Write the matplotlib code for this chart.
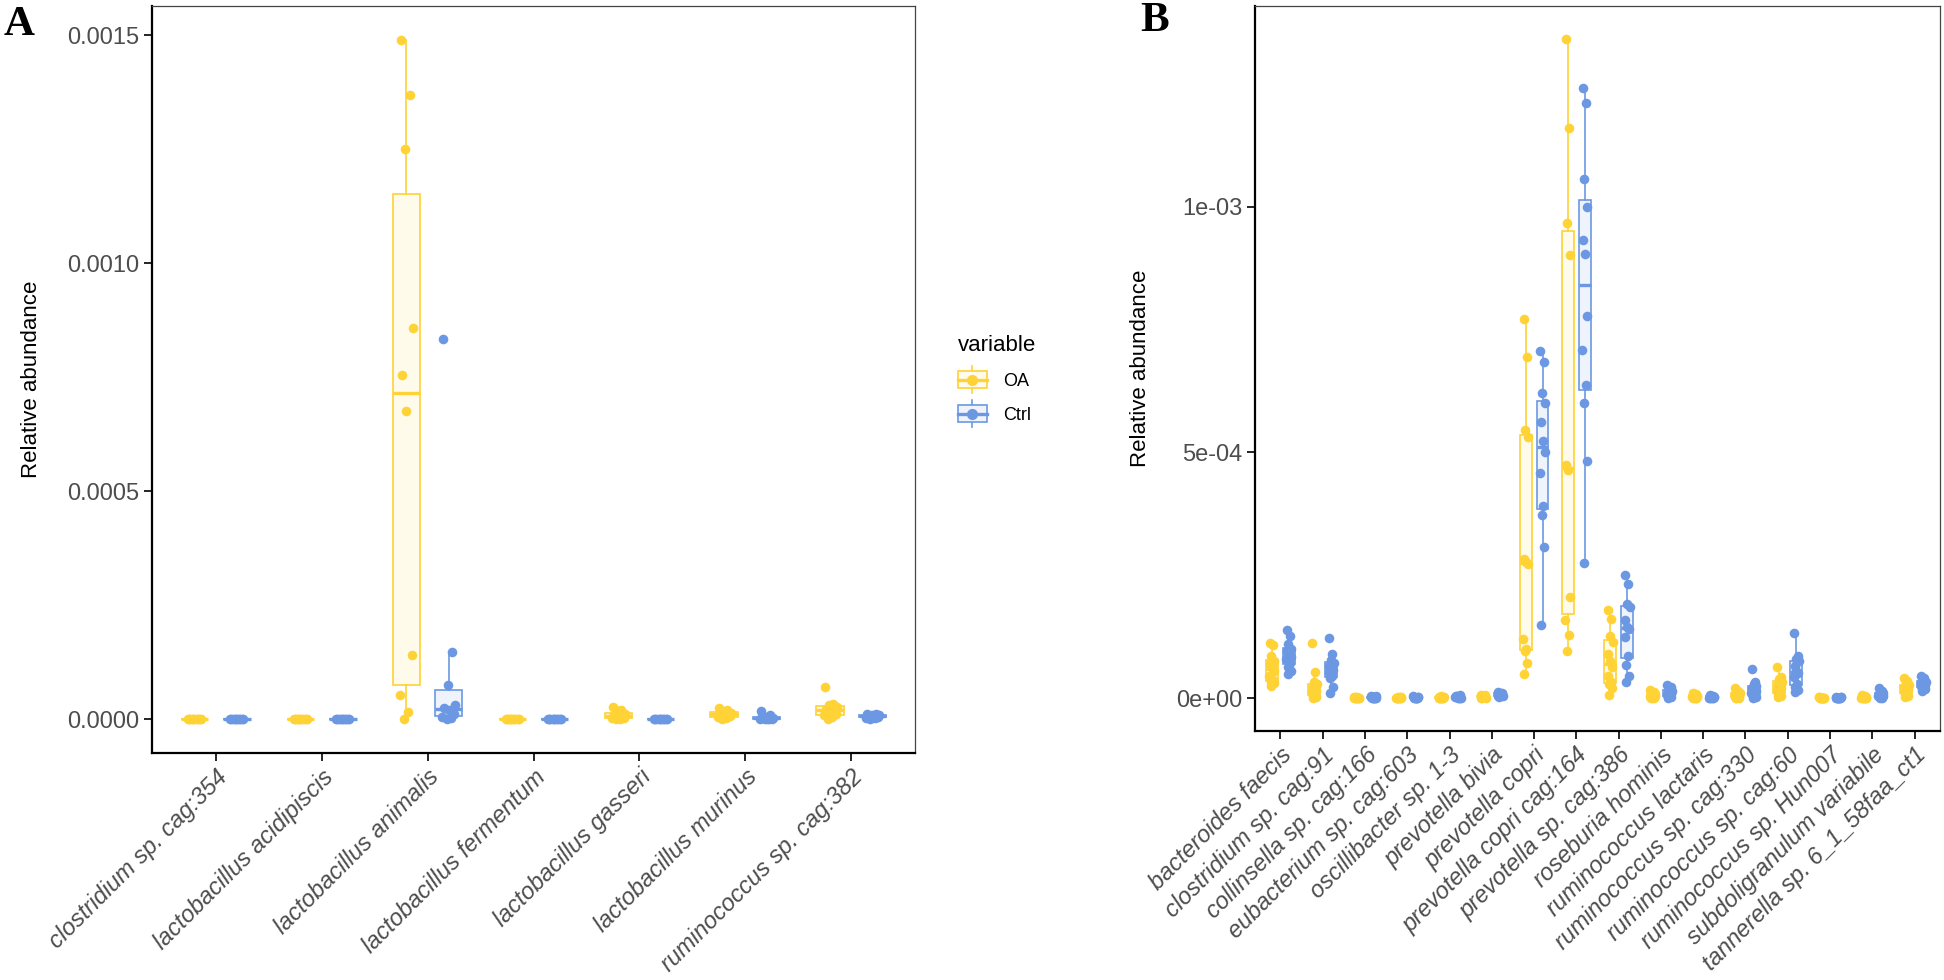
import numpy as np
import matplotlib
matplotlib.use('Agg')
import matplotlib.pyplot as plt
from matplotlib.legend_handler import HandlerBase
from matplotlib.patches import Rectangle
from matplotlib.lines import Line2D

plt.rcParams['font.family'] = ['Liberation Sans', 'DejaVu Sans']

OA_COL = '#FFD235'
CTRL_COL = '#6C98E3'
OA_FILL = '#FFFBEA'
CTRL_FILL = '#EEF3FC'
groups = ['OA', 'Ctrl']

# ---- panel A: relative abundance, values in units of 1e-5 ----
species_a = ['clostridium sp. cag:354', 'lactobacillus acidipiscis', 'lactobacillus animalis',
             'lactobacillus fermentum', 'lactobacillus gasseri', 'lactobacillus murinus',
             'ruminococcus sp. cag:382']
oa_a = [
    [0.02, 0.0, 0.05, 0.01, 0.0, 0.03, 0.0, 0.02, 0.01, 0.0],
    [0.0, 0.02, 0.01, 0.0, 0.03, 0.0, 0.01, 0.02, 0.0, 0.01],
    [149.0, 137.0, 125.0, 85.7, 75.5, 67.6, 14.0, 5.3, 1.6, 0.0],
    [0.01, 0.0, 0.02, 0.0, 0.03, 0.01, 0.0, 0.02, 0.0, 0.01],
    [2.7, 2.0, 1.5, 1.2, 0.8, 0.5, 0.3, 0.2, 0.1, 0.0],
    [2.4, 1.9, 1.6, 1.3, 1.1, 0.9, 0.6, 0.4, 0.2, 0.1],
    [7.0, 3.4, 3.0, 2.6, 2.2, 1.8, 1.2, 0.9, 0.5, 0.0],
]
ctrl_a = [
    [0.01, 0.03, 0.0, 0.02, 0.0, 0.04, 0.01, 0.0, 0.02, 0.0],
    [0.02, 0.0, 0.01, 0.04, 0.0, 0.01, 0.03, 0.0, 0.02, 0.01],
    [83.4, 14.8, 7.5, 3.0, 2.5, 2.0, 1.0, 0.5, 0.3, 0.0],
    [0.02, 0.01, 0.0, 0.03, 0.0, 0.02, 0.0, 0.01, 0.03, 0.0],
    [0.05, 0.0, 0.02, 0.1, 0.0, 0.03, 0.0, 0.06, 0.01, 0.0],
    [1.8, 0.9, 0.5, 0.3, 0.2, 0.1, 0.05, 0.0, 0.0, 0.0],
    [1.2, 1.0, 0.9, 0.8, 0.7, 0.6, 0.5, 0.3, 0.2, 0.1],
]
scale_a = 1e-5
yticks_a = [0.0, 0.0005, 0.0010, 0.0015]

# ---- panel B: relative abundance, values in units of 1e-4 ----
species_b = ['bacteroides faecis', 'clostridium sp. cag:91', 'collinsella sp. cag:166',
             'eubacterium sp. cag:603', 'oscillibacter sp. 1-3', 'prevotella bivia',
             'prevotella copri', 'prevotella copri cag:164', 'prevotella sp. cag:386',
             'roseburia hominis', 'ruminococcus lactaris', 'ruminococcus sp. cag:330',
             'ruminococcus sp. cag:60', 'ruminococcus sp. Hun007', 'subdoligranulum variabile',
             'tannerella sp. 6_1_58faa_ct1']
oa_b = [
    [1.13, 1.08, 0.85, 0.76, 0.70, 0.63, 0.55, 0.45, 0.36, 0.33, 0.30, 0.25],
    [1.12, 0.53, 0.33, 0.28, 0.22, 0.18, 0.14, 0.10, 0.07, 0.05, 0.02, 0.0],
    [0.02, 0.0, 0.01, 0.0, 0.03, 0.0, 0.01, 0.0, 0.02, 0.0, 0.01, 0.0],
    [0.01, 0.0, 0.02, 0.0, 0.0, 0.01, 0.03, 0.0, 0.01, 0.0, 0.02, 0.0],
    [0.03, 0.01, 0.0, 0.02, 0.0, 0.04, 0.01, 0.0, 0.02, 0.0, 0.01, 0.0],
    [0.06, 0.03, 0.04, 0.0, 0.05, 0.02, 0.07, 0.01, 0.03, 0.0, 0.04, 0.02],
    [7.71, 6.93, 5.45, 5.31, 2.82, 2.76, 2.72, 1.21, 1.00, 0.95, 0.72, 0.49],
    [13.41, 11.60, 9.66, 9.02, 4.75, 4.63, 2.05, 1.59, 1.28, 0.96],
    [1.79, 1.60, 1.27, 1.15, 0.90, 0.75, 0.64, 0.45, 0.32, 0.28, 0.20, 0.06],
    [0.16, 0.12, 0.10, 0.08, 0.07, 0.05, 0.04, 0.03, 0.02, 0.01, 0.0, 0.0],
    [0.10, 0.08, 0.06, 0.05, 0.04, 0.03, 0.02, 0.02, 0.01, 0.0, 0.0, 0.0],
    [0.20, 0.15, 0.12, 0.10, 0.08, 0.06, 0.05, 0.03, 0.02, 0.01, 0.0, 0.0],
    [0.64, 0.43, 0.38, 0.33, 0.28, 0.24, 0.20, 0.16, 0.12, 0.08, 0.05, 0.02],
    [0.02, 0.0, 0.01, 0.0, 0.0, 0.01, 0.0, 0.02, 0.0, 0.01, 0.0, 0.0],
    [0.06, 0.04, 0.03, 0.02, 0.02, 0.01, 0.01, 0.0, 0.0, 0.01, 0.0, 0.0],
    [0.40, 0.35, 0.30, 0.26, 0.22, 0.20, 0.17, 0.14, 0.11, 0.08, 0.05, 0.03],
]
ctrl_b = [
    [1.39, 1.27, 1.10, 1.00, 0.95, 0.88, 0.83, 0.80, 0.72, 0.63, 0.55, 0.48],
    [1.23, 0.89, 0.78, 0.72, 0.66, 0.62, 0.58, 0.52, 0.45, 0.40, 0.22, 0.10],
    [0.03, 0.01, 0.0, 0.04, 0.02, 0.0, 0.01, 0.05, 0.0, 0.02, 0.01, 0.0],
    [0.02, 0.01, 0.0, 0.03, 0.01, 0.0, 0.02, 0.04, 0.0, 0.01, 0.0, 0.02],
    [0.05, 0.02, 0.03, 0.0, 0.04, 0.01, 0.06, 0.02, 0.0, 0.03, 0.01, 0.02],
    [0.12, 0.08, 0.10, 0.05, 0.09, 0.06, 0.11, 0.04, 0.07, 0.03, 0.08, 0.05],
    [7.07, 6.84, 6.21, 6.00, 5.62, 5.22, 5.00, 4.57, 3.90, 3.72, 3.08, 1.48],
    [12.41, 12.10, 10.56, 10.00, 9.32, 9.04, 7.78, 7.09, 6.36, 6.00, 4.82, 2.74],
    [2.50, 2.32, 1.92, 1.85, 1.59, 1.45, 1.40, 1.25, 0.85, 0.67, 0.45, 0.33],
    [0.26, 0.22, 0.18, 0.15, 0.12, 0.10, 0.08, 0.06, 0.05, 0.03, 0.02, 0.01],
    [0.06, 0.05, 0.04, 0.03, 0.03, 0.02, 0.02, 0.01, 0.01, 0.0, 0.0, 0.0],
    [0.60, 0.32, 0.28, 0.24, 0.20, 0.17, 0.14, 0.11, 0.08, 0.05, 0.02, 0.0],
    [1.33, 0.85, 0.80, 0.75, 0.65, 0.55, 0.50, 0.42, 0.28, 0.22, 0.16, 0.12],
    [0.03, 0.01, 0.0, 0.02, 0.01, 0.0, 0.02, 0.0, 0.01, 0.0, 0.01, 0.0],
    [0.20, 0.15, 0.12, 0.10, 0.08, 0.06, 0.05, 0.04, 0.03, 0.02, 0.01, 0.0],
    [0.45, 0.40, 0.36, 0.33, 0.30, 0.28, 0.26, 0.24, 0.22, 0.20, 0.18, 0.15],
]
scale_b = 1e-4
yticks_b = [0.0, 0.0005, 0.0010]

# fixed horizontal jitter pattern (x units)
JIT = np.array([-0.05, 0.03, -0.01, 0.06, -0.04, 0.0, 0.05, -0.06, 0.02, -0.02, 0.04, -0.03])


def draw_panel(ax, names, oa, ctrl, scale, width):
    x = np.arange(len(names))
    allvals = []
    for vals, off, col, fill in [(oa, -0.2, OA_COL, OA_FILL), (ctrl, 0.2, CTRL_COL, CTRL_FILL)]:
        data = [np.array(v) * scale for v in vals]
        allvals += data
        ax.boxplot(data, positions=x + off, widths=width, patch_artist=True,
                   showfliers=False, showcaps=False, manage_ticks=False,
                   boxprops=dict(facecolor=fill, edgecolor=col, linewidth=1.2),
                   whiskerprops=dict(color=col, linewidth=1.2),
                   medianprops=dict(color=col, linewidth=2.4))
        for i, v in enumerate(data):
            ax.scatter(x[i] + off + np.resize(JIT, len(v)), v, s=48, color=col,
                       linewidths=0, zorder=3)
    ymax = max(v.max() for v in allvals)
    ax.set_ylim(-0.05 * ymax, 1.05 * ymax)
    ax.set_xlim(-0.6, len(names) - 0.4)
    ax.set_xticks(x)
    ax.set_xticklabels(names, rotation=45, ha='right', va='top', rotation_mode='anchor',
                       style='italic')
    for s in ['left', 'bottom']:
        ax.spines[s].set_linewidth(1.6)
        ax.spines[s].set_color('black')
    for s in ['top', 'right']:
        ax.spines[s].set_linewidth(0.9)
        ax.spines[s].set_color('#444444')
    ax.tick_params(length=6, width=1.2, color='black', labelsize=17,
                   labelcolor='#4D4D4D', pad=3)
    ax.set_ylabel('Relative abundance', fontsize=16, color='black')


fig = plt.figure(figsize=(19.44, 9.8), dpi=100)
W, H = 1944, 980
ax_a = fig.add_axes([152 / W, 1 - 753 / H, (915 - 152) / W, (753 - 6) / H])
ax_b = fig.add_axes([1255 / W, 1 - 731 / H, (1940 - 1255) / W, (731 - 6) / H])

draw_panel(ax_a, species_a, oa_a, ctrl_a, scale_a, 0.26)
ax_a.set_yticks(yticks_a)
ax_a.set_yticklabels([f'{v:.4f}' for v in yticks_a])
ax_a.yaxis.set_label_coords((42 - 152) / (915 - 152), 0.5)

draw_panel(ax_b, species_b, oa_b, ctrl_b, scale_b, 0.28)
ax_b.set_yticks(yticks_b)
ax_b.set_yticklabels([f'{v:.0e}' for v in yticks_b])
ax_b.yaxis.set_label_coords((1151 - 1255) / (1940 - 1255), 0.5)


class BoxKey(HandlerBase):
    def create_artists(self, legend, orig, xd, yd, w, h, fontsize, trans):
        col = orig.get_color()
        fill = orig.get_markerfacecolor()
        x0, y0 = -xd, -yd
        whisk = Line2D([x0 + w / 2] * 2, [y0 - h * 0.3, y0 + h * 1.3], color=col, lw=1.2,
                       transform=trans)
        box = Rectangle((x0, y0), w, h, facecolor=fill, edgecolor=col, lw=1.2, transform=trans)
        med = Line2D([x0, x0 + w], [y0 + h / 2] * 2, color=col, lw=2.4, transform=trans)
        dot = Line2D([x0 + w / 2], [y0 + h / 2], marker='o', ms=7, color=col, lw=0,
                     transform=trans)
        return [whisk, box, med, dot]


handles = [Line2D([], [], color=OA_COL, markerfacecolor=OA_FILL),
           Line2D([], [], color=CTRL_COL, markerfacecolor=CTRL_FILL)]
leg = fig.legend(handles, groups, title='variable', loc='upper left',
                 bbox_to_anchor=(949 / W, 1 - 326 / H), frameon=False, fontsize=13,
                 title_fontsize=16, handler_map={Line2D: BoxKey()}, handlelength=1.6,
                 handleheight=1.05, labelspacing=0.85, handletextpad=0.9, borderpad=0)
leg._legend_box.align = 'left'

fig.text(4 / W, 1 - 6 / H, 'A', fontsize=31, fontweight='bold', family='Liberation Serif',
         va='top', ha='left')
fig.text(1140 / W, 1 - 2 / H, 'B', fontsize=31, fontweight='bold', family='Liberation Serif',
         va='top', ha='left')

fig.savefig('out.png', dpi=100)
